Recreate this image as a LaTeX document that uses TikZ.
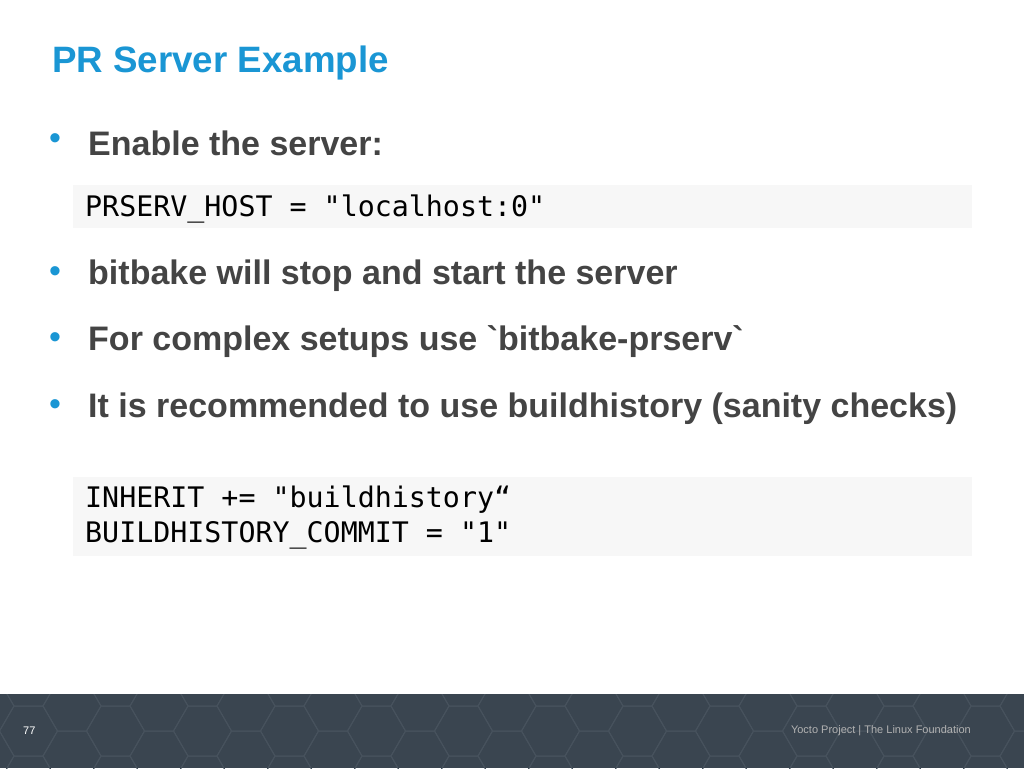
\documentclass[tikz,border=0pt]{standalone}
\usepackage{fontspec}
\setmainfont{Liberation Sans}
\setmonofont{DejaVu Sans Mono}
\newfontfamily\rawsans[Ligatures=TeXOff]{Liberation Sans}
\usetikzlibrary{positioning}
\definecolor{titleblue}{HTML}{1A96D4}
\definecolor{textgray}{HTML}{444444}
\definecolor{codebg}{HTML}{F7F7F7}
\definecolor{footbg}{HTML}{3A4550}
\definecolor{hexline}{HTML}{47525D}
\tikzset{
  bullet/.style={anchor=west, font=\fontsize{34}{40}\selectfont\bfseries, text=textgray, inner sep=0pt},
  dot/.style={anchor=center, font=\fontsize{34}{40}\selectfont, text=titleblue, inner sep=0pt},
  code/.style={anchor=west, font=\fontsize{28.3}{35}\selectfont\ttfamily, text=black, inner sep=0pt, align=left},
  codebox/.style={fill=codebg, draw=none},
}
\begin{document}
\begin{tikzpicture}[x=1pt, y=-1pt]
  \useasboundingbox (0,0) rectangle (1024,768);
  \fill[white] (0,0) rectangle (1024,768);
  % footer band with hexagons
  \fill[footbg] (0,694) rectangle (1024,768);
  \begin{scope}
    \clip (0,694) rectangle (1024,768);
    \foreach \c in {-2,...,24} {
      \foreach \r in {-1,...,2} {
        \pgfmathsetmacro{\hx}{72+\c*43.5}
        \pgfmathsetmacro{\hy}{706+\r*50+mod(\c+2,2)*25}
        \draw[hexline, line width=1pt] (\hx-29,\hy) -- (\hx-14.5,\hy+25) -- (\hx+14.5,\hy+25)
          -- (\hx+29,\hy) -- (\hx+14.5,\hy-25) -- (\hx-14.5,\hy-25) -- cycle;
      }
    }
  \end{scope}
  \node (page) [anchor=west, text=white, font=\fontsize{11}{13}\selectfont, inner sep=0pt] at (23,731) {77};
  \node (foot) [anchor=east, text=gray!60, font=\fontsize{11}{13}\selectfont, inner sep=0pt] at (971,731) {Yocto Project | The Linux Foundation};
  % title
  \node (title) [anchor=west, text=titleblue, font=\fontsize{36.7}{42}\selectfont\bfseries, inner sep=0pt] at (52,63) {PR Server Example};
  % bullets
  \node (d1) [dot] at (55,142) {•};
  \node (b1) [bullet] at (88,143) {Enable the server:};
  \fill[codebox] (73,185) rectangle (972,228);
  \node (c1) [code] at (85,209) {PRSERV\textunderscore HOST = "localhost:0"};
  \node (d2) [dot] at (55,275) {•};
  \node (b2) [bullet] at (88,276) {bitbake will stop and start the server};
  \node (d3) [dot] at (55,341) {•};
  \node (b3) [bullet] at (88,342) {For complex setups use {\rawsans\bfseries `bitbake-prserv`}};
  \node (d4) [dot] at (55,408) {•};
  \node (b4) [bullet] at (88,409) {It is recommended to use buildhistory (sanity checks)};
  \fill[codebox] (73,477) rectangle (972,556);
  \node (c2) [code] at (85,518) {INHERIT += "buildhistory“\\BUILDHISTORY\textunderscore COMMIT = "1"};
\end{tikzpicture}
\end{document}
